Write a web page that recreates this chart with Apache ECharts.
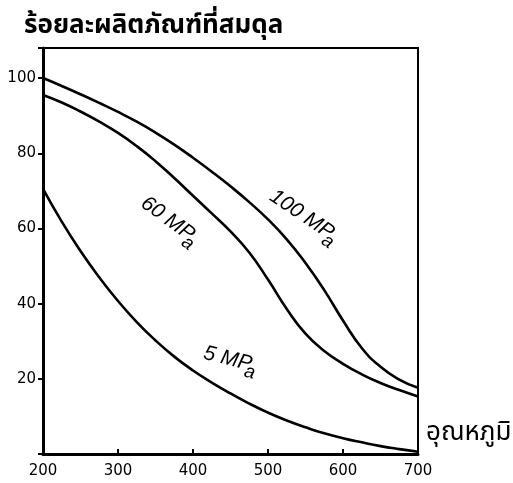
<!DOCTYPE html>
<html><head><meta charset="utf-8">
<script src="https://cdn.jsdelivr.net/npm/echarts@6/dist/echarts.min.js"></script>
<style>html,body{margin:0;padding:0;background:#fff}#c{width:513px;height:483px}</style>
</head><body><div id="c"></div>
<script>
const temps   = [200,225,250,275,300,325,350,375,400,425,450,475,500,525,550,575,600,625,650,675,700];
const vals100 = [100,97.9,95.7,93.4,91.0,88.4,85.5,82.3,78.8,75.1,71.2,67.0,62.4,57.1,50.8,43.6,35.5,28.2,23.2,19.8,17.6];
const vals60  = [95.5,93.5,91.1,88.4,85.4,81.9,77.9,73.4,68.7,64.0,59.2,53.6,46.4,38.6,32.0,27.4,24.0,21.2,18.9,17.0,15.3];
const vals5   = [70.5,61.8,54.0,47.0,40.7,35.1,30.2,25.9,22.2,19.0,16.1,13.4,11.0,8.9,7.1,5.5,4.2,3.1,2.1,1.3,0.6];
const xTicks = [200,300,400,500,600,700];
const yTicks = [20,40,60,80,100];
const titleText = 'ร้อยละผลิตภัณฑ์ที่สมดุล';
const xName = 'อุณหภูมิ';
const curveNames = ['100 MP','60 MP','5 MP'];

const zip = (a,b)=>a.map((x,i)=>[x,b[i]]);
const chart = echarts.init(document.getElementById('c'));
const font = '"Liberation Sans", Arial, sans-serif';
const tickFont = '"DejaVu Sans", sans-serif';
const thai = '"Noto Sans Thai","Noto Sans","DejaVu Sans",sans-serif';
const line = (d)=>({type:'line',data:d,smooth:0.5,showSymbol:false,lineStyle:{color:'#000',width:2.6},silent:true});
function lbl(name,x,y,deg,j){
  return {type:'group',x:x,y:y,rotation:-deg*Math.PI/180,children:[
    {type:'text',x:j,y:0,style:{text:name,font:'italic 21px '+font,fill:'#000',align:'right',verticalAlign:'middle'}},
    {type:'text',x:j-5,y:8,style:{text:'a',font:'italic 19px '+font,fill:'#000',align:'left',verticalAlign:'middle'}}
  ]};
}
chart.setOption({
  animation:false,
  grid:{left:43,right:95,top:48,bottom:29,show:true,borderColor:'#000',borderWidth:2},
  xAxis:{type:'value',min:200,max:700,interval:100,
    axisLine:{lineStyle:{color:'#000',width:3}},
    axisTick:{inside:true,length:5,lineStyle:{color:'#000',width:2}},
    splitLine:{show:false},
    axisLabel:{color:'#000',fontSize:15,fontFamily:tickFont,margin:10,
      formatter:v=>xTicks.includes(v)?String(v):''}},
  yAxis:{type:'value',min:0,max:108,interval:20,
    axisLine:{show:true,lineStyle:{color:'#000',width:3}},
    axisTick:{show:true,length:5,lineStyle:{color:'#000',width:2}},
    splitLine:{show:false},
    axisLabel:{color:'#000',fontSize:15,fontFamily:tickFont,margin:7,
      formatter:v=>yTicks.includes(v)?String(v):''}},
  series:[line(zip(temps,vals100)),line(zip(temps,vals60)),line(zip(temps,vals5))],
  graphic:[
    {type:'text',left:24,top:15,style:{text:titleText,font:'bold 26px '+thai,fill:'#000'}},
    {type:'text',left:426,top:422,style:{text:xName,font:'26px '+thai,fill:'#000'}},
    lbl(curveNames[0],307,218,34,30),
    lbl(curveNames[1],172,222,36,25),
    lbl(curveNames[2],233,360,14,19)
  ]
});
</script></body></html>
